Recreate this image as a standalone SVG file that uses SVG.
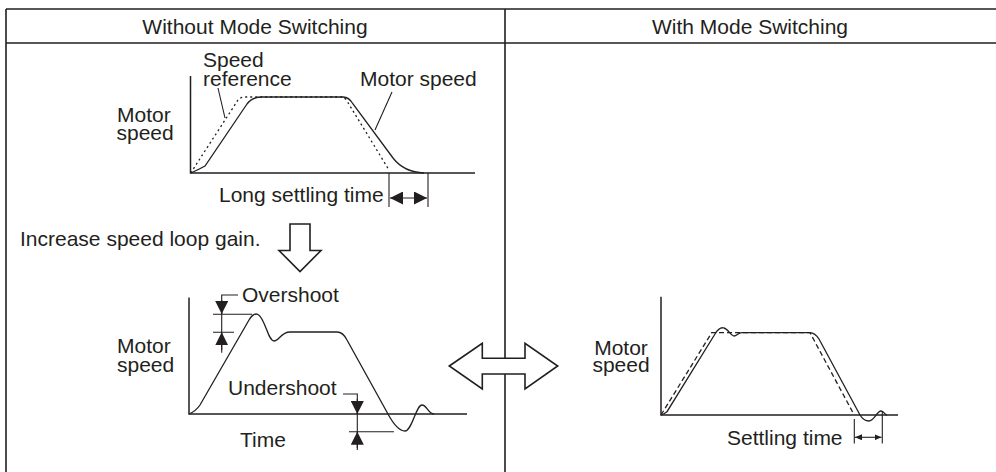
<svg xmlns="http://www.w3.org/2000/svg" width="996" height="472" viewBox="0 0 996 472">
<style>
text{font-family:"Liberation Sans",Arial,sans-serif;font-size:21px;fill:#231f20}
.mid{text-anchor:middle}
.tbl{stroke:#231f20;stroke-width:1.6;fill:none}
.ax{stroke:#231f20;stroke-width:1.5;fill:none}
.cv{stroke:#231f20;stroke-width:1.3;fill:none}
.dot{stroke:#231f20;stroke-width:1.3;fill:none;stroke-dasharray:2 3}
.dash{stroke:#231f20;stroke-width:1.3;fill:none;stroke-dasharray:5 3}
.ln{stroke:#231f20;stroke-width:1.1;fill:none}
.big{stroke:#231f20;stroke-width:1.6;fill:#fff;stroke-linejoin:miter}
</style>
<defs>
<marker id="ah" markerUnits="userSpaceOnUse" markerWidth="14" markerHeight="13" refX="13" refY="6.5" orient="auto-start-reverse"><path d="M0,0 L13,6.5 L0,13 z" fill="#231f20"/></marker>
<marker id="as" markerUnits="userSpaceOnUse" markerWidth="8" markerHeight="6" refX="7" refY="3" orient="auto-start-reverse"><path d="M0,0 L7,3 L0,6 z" fill="#231f20"/></marker>
</defs>
<g id="table">
<path class="tbl" d="M6,9 H996 M6,43 H996 M6,9 V472 M505,9 V472"/>
<text class="mid" x="255" y="34">Without Mode Switching</text>
<text class="mid" x="750" y="34">With Mode Switching</text>
</g>
<g id="graph-long-settling">
<path class="ax" d="M190.5,76 V173 H475"/>
<path class="dot" d="M190.7,173 L238,100 Q240.5,97 245,97 L343,97 Q345,98 347,101 L389,170"/>
<path class="cv" d="M190.7,173 Q198,170 205,166 L247,104 Q252,97 262,97 L343,97 Q349,97 353,104 L393,158 C400,167 410,172.5 424,173"/>
<text x="117" y="122">Motor</text>
<text x="116.5" y="140">speed</text>
<text x="203" y="67">Speed</text>
<text x="203" y="86">reference</text>
<path class="ln" d="M218,88 L225,118"/>
<text x="360" y="86">Motor speed</text>
<path class="ln" d="M392,92 L375,130"/>
<text x="219" y="202">Long settling time</text>
<path class="ln" d="M389,173 V207 M428,173 V207"/>
<path class="ln" d="M390,198 H427" marker-start="url(#ah)" marker-end="url(#ah)"/>
</g>
<g id="gain-step">
<text x="20" y="246">Increase speed loop gain.</text>
<path class="big" d="M290,224 H310 V250.5 H321 L300,271.5 L279,250.5 H290 Z"/>
</g>
<g id="graph-overshoot">
<path class="ax" d="M189,297.5 V414 H467"/>
<path class="cv" d="M189,414 Q196,411 200,405 L249,320 C252,315 255,313 258,314.5 C265,318 268,341 274,341 C279,341 281,332 290,332 L337,332 C342,332 345,336 347,340 L388,414 C395,427 400,431 405,431 C412,431 416,405 422,405 C427,405 428,414 434,414"/>
<text x="117" y="353">Motor</text>
<text x="117" y="372">speed</text>
<text x="242" y="302">Overshoot</text>
<path class="ln" d="M238,295 H221.7 V352.7"/>
<path class="ln" d="M221.7,300 V314" marker-end="url(#ah)"/>
<path class="ln" d="M221.7,350 V332.3" marker-end="url(#ah)"/>
<path class="ln" d="M213,314.3 H252 M213,332.3 H234"/>
<text x="228" y="395">Undershoot</text>
<path class="ln" d="M343,394 H357.3 V450"/>
<path class="ln" d="M357.3,399 V414" marker-end="url(#ah)"/>
<path class="ln" d="M357.3,448 V431.7" marker-end="url(#ah)"/>
<path class="ln" d="M349,431.7 H394"/>
<text x="240" y="447">Time</text>
</g>
<g id="compare-arrow">
<path class="big" d="M449.3,366 L482.3,343.3 V358.3 H525 V343.3 L557.7,366 L525,389 V374 H482.3 V389 Z"/>
</g>
<g id="graph-mode-switching">
<path class="ax" d="M661,296.7 V415 H898"/>
<path class="dash" d="M661,415 L711.7,332.7 L810,332.7 L853.3,413.3"/>
<path class="cv" d="M661,415 Q664,414 667,411.7 L715,334 C718,329 721,327 724,328 C728,329 731,336 734,336 C737,336 738,332.7 742,332.7 L810,332.7 C814,333 817,336 819,339 L860,415 C863,420 866,421 869,421 C874,421 877,411 881,411 C884,411 885,415 887,415"/>
<text class="mid" x="621" y="355">Motor</text>
<text class="mid" x="621" y="372">speed</text>
<text x="727" y="445">Settling time</text>
<path class="ln" d="M854.3,419 V443.5 M882.3,411.7 V443.5"/>
<path class="ln" d="M855,437.3 H881.5" marker-start="url(#as)" marker-end="url(#as)"/>
</g>
</svg>
